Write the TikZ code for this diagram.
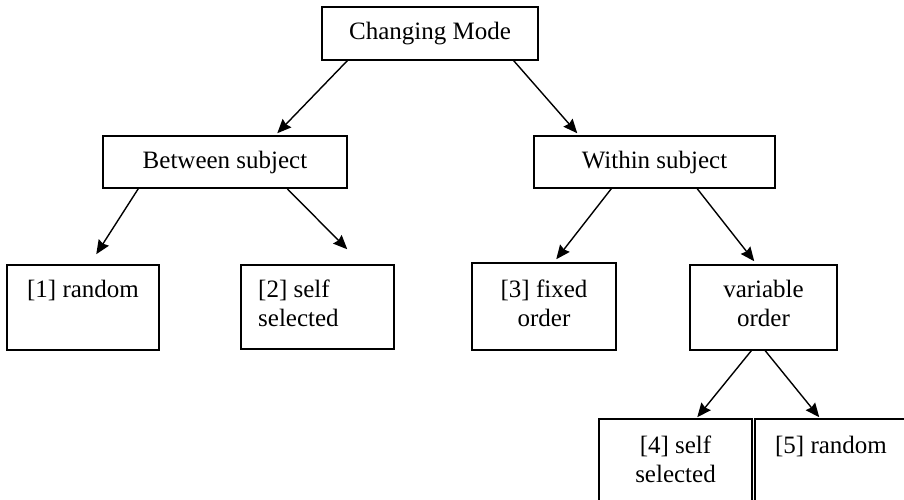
\documentclass[tikz,border=0pt]{standalone}
\usepackage{fontspec}
\setmainfont{Liberation Serif}
\usetikzlibrary{arrows.meta,positioning}
\begin{document}
\begin{tikzpicture}[x=1pt,y=-1pt,
  box/.style={draw,line width=1.5pt,inner sep=0pt},
  lbl/.style={inner sep=0pt,anchor=base,font=\fontsize{25}{29}\selectfont},
  conn/.style={line width=1.4pt,-{Stealth[length=14pt,width=12pt,inset=1.5pt]}}]
\clip (0,0) rectangle (904,499);
\fill[white] (0,0) rectangle (904,499);
% boxes
\node[box,minimum width=216pt,minimum height=53pt,font=\fontsize{25}{29}\selectfont] (cm) at (430,33.5) {Changing Mode};
\node[box,minimum width=244pt,minimum height=52pt,font=\fontsize{25}{29}\selectfont] (bs) at (225,162) {Between subject};
\node[box,minimum width=241pt,minimum height=52pt,font=\fontsize{25}{29}\selectfont] (ws) at (654.5,162) {Within subject};
\node[box,minimum width=152pt,minimum height=85pt] (b1) at (83,307.5) {};
\node[box,minimum width=153pt,minimum height=84pt] (b2) at (317.5,307) {};
\node[box,minimum width=144pt,minimum height=87pt] (b3) at (544,306.5) {};
\node[box,minimum width=147pt,minimum height=85pt] (vo) at (763.5,307.5) {};
\node[box,minimum width=153pt,minimum height=100pt] (b4) at (675.5,469) {};
\node[box,minimum width=152pt,minimum height=100pt] (b5) at (831,469) {};
% texts
\node[lbl] (t1) at (83,297) {[1] random};
\node[lbl,anchor=base west] (t2a) at (258,297) {[2] self};
\node[lbl,anchor=base west] (t2b) at (258,326) {selected};
\node[lbl] (t3a) at (544,297) {[3] fixed};
\node[lbl] (t3b) at (544,326) {order};
\node[lbl] (tva) at (763.5,297) {variable};
\node[lbl] (tvb) at (763.5,326) {order};
\node[lbl] (t4a) at (675.5,453) {[4] self};
\node[lbl] (t4b) at (675.5,482) {selected};
\node[lbl] (t5) at (831,453) {[5] random};
% connectors
\draw[conn] ([xshift=26pt]cm.south west) -- ([xshift=175pt,yshift=2pt]bs.north west);
\draw[conn] ([xshift=-25pt]cm.south east) -- ([xshift=44pt,yshift=2pt]ws.north west);
\draw[conn] ([xshift=36pt]bs.south west) -- ([xshift=90pt,yshift=10pt]b1.north west);
\draw[conn] ([xshift=185pt]bs.south west) -- ([xshift=107pt,yshift=15pt]b2.north west);
\draw[conn] ([xshift=78pt]ws.south west) -- ([xshift=85pt,yshift=3pt]b3.north west);
\draw[conn] ([xshift=164pt]ws.south west) -- ([xshift=65pt,yshift=3pt]vo.north west);
\draw[conn] ([xshift=62pt]vo.south west) -- ([xshift=99pt,yshift=1pt]b4.north west);
\draw[conn] ([xshift=76pt]vo.south west) -- ([xshift=65pt,yshift=1pt]b5.north west);
\end{tikzpicture}
\end{document}
